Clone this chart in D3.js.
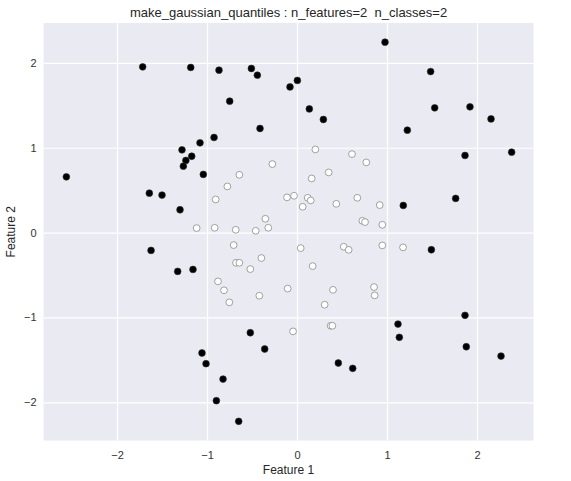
<!DOCTYPE html>
<html><head><meta charset="utf-8">
<script src="https://cdn.jsdelivr.net/npm/d3@7"></script>
<style>body{margin:0;background:#fff;} text{font-family:"Liberation Sans",Arial,sans-serif;}</style>
</head><body>
<svg id="chart" width="571" height="481"></svg>
<script>
const titleText = "make_gaussian_quantiles : n_features=2  n_classes=2";
const xTicks = [-2, -1, 0, 1, 2];
const yTicks = [-2, -1, 0, 1, 2];
// class 1 (black)
const class1X = [0.978,-1.715,-1.181,-0.867,-0.507,-0.441,1.485,-0.078,0.004,-0.748,0.137,1.53,1.922,0.293,2.156,-0.411,1.226,-0.922,-1.078,-1.278,-1.17,-1.235,-1.263,1.867,2.385,-1.041,-2.563,-1.641,-1.5,1.763,1.181,-1.3,-1.622,1.493,-1.156,-1.326,1.867,1.122,-0.519,1.137,1.881,-0.359,-1.056,2.267,-1.011,0.459,0.619,-0.822,-0.896,-0.648];
const class1Y = [2.244,1.953,1.946,1.914,1.934,1.855,1.898,1.717,1.793,1.549,1.458,1.47,1.482,1.333,1.34,1.227,1.207,1.121,1.058,0.975,0.90,0.85,0.783,0.909,0.948,0.686,0.657,0.465,0.442,0.403,0.32,0.269,-0.21,-0.202,-0.434,-0.457,-0.975,-1.078,-1.18,-1.234,-1.345,-1.372,-1.419,-1.455,-1.545,-1.537,-1.6,-1.726,-1.981,-2.224];
// class 0 (white)
const class0X = [0.204,0.611,0.77,-0.274,-0.641,-0.774,0.352,0.163,-0.904,-0.111,-0.033,0.119,0.152,0.063,0.437,0.67,0.726,0.756,-0.352,-0.319,-0.915,-0.681,-0.459,-0.704,0.041,0.519,0.574,-0.396,-0.678,-0.641,-0.519,0.174,-0.878,-0.811,-0.104,0.4,-0.752,-0.419,0.307,0.374,0.393,-0.044,0.919,0.948,0.948,1.178,0.856,0.863,-1.115];
const class0Y = [0.98,0.925,0.827,0.807,0.681,0.544,0.709,0.638,0.391,0.415,0.434,0.41,0.379,0.304,0.339,0.41,0.139,0.124,0.163,0.057,0.057,0.033,0.021,-0.147,-0.183,-0.167,-0.203,-0.3,-0.356,-0.356,-0.43,-0.395,-0.575,-0.68,-0.66,-0.675,-0.822,-0.744,-0.85,-1.098,-1.098,-1.164,0.324,0.092,-0.151,-0.174,-0.642,-0.74,0.053];

const svg = d3.select("#chart");
const L = 43.6, R = 533.5, T = 23, B = 440.5;
const x = d3.scaleLinear().domain([-2.816, 2.628]).range([L, R]);
const y = d3.scaleLinear().domain([-2.45, 2.47]).range([B, T]);

svg.append("rect").attr("x", L).attr("y", T).attr("width", R - L).attr("height", B - T).attr("fill", "#EAEAF2");

const gx = svg.append("g").attr("transform", `translate(0,${B})`)
  .call(d3.axisBottom(x).tickValues(xTicks).tickSize(-(B - T)).tickPadding(11).tickFormat(d3.format("d")));
const gy = svg.append("g").attr("transform", `translate(${L},0)`)
  .call(d3.axisLeft(y).tickValues(yTicks).tickSize(-(R - L)).tickPadding(7).tickFormat(d3.format("d")));
[gx, gy].forEach(g => {
  g.select(".domain").remove();
  g.selectAll(".tick line").attr("stroke", "#fff").attr("stroke-width", 1.2);
  g.selectAll(".tick text").attr("fill", "#333").attr("font-size", 11).attr("font-family", "Liberation Sans, Arial, sans-serif");
});

const pts0 = class0X.map((v, i) => ({x: v, y: class0Y[i]}));
const pts1 = class1X.map((v, i) => ({x: v, y: class1Y[i]}));
svg.append("g").selectAll("circle").data(pts0).join("circle")
  .attr("cx", d => x(d.x)).attr("cy", d => y(d.y)).attr("r", 3.4)
  .attr("fill", "#fff").attr("stroke", "#8a8a8a").attr("stroke-width", 0.8);
svg.append("g").selectAll("circle").data(pts1).join("circle")
  .attr("cx", d => x(d.x)).attr("cy", d => y(d.y)).attr("r", 3.4)
  .attr("fill", "#000").attr("stroke", "#333").attr("stroke-width", 0.6);

svg.append("text").attr("x", (L + R) / 2).attr("y", 17).attr("text-anchor", "middle")
  .style("white-space", "pre").attr("xml:space", "preserve")
  .attr("font-size", 13).attr("fill", "#262626").text(titleText);
svg.append("text").attr("x", (L + R) / 2).attr("y", 474).attr("text-anchor", "middle")
  .attr("font-size", 12).attr("fill", "#262626").text("Feature 1");
svg.append("text").attr("transform", `translate(15,${(T + B) / 2}) rotate(-90)`).attr("text-anchor", "middle")
  .attr("font-size", 12).attr("fill", "#262626").text("Feature 2");
</script>
</body></html>
